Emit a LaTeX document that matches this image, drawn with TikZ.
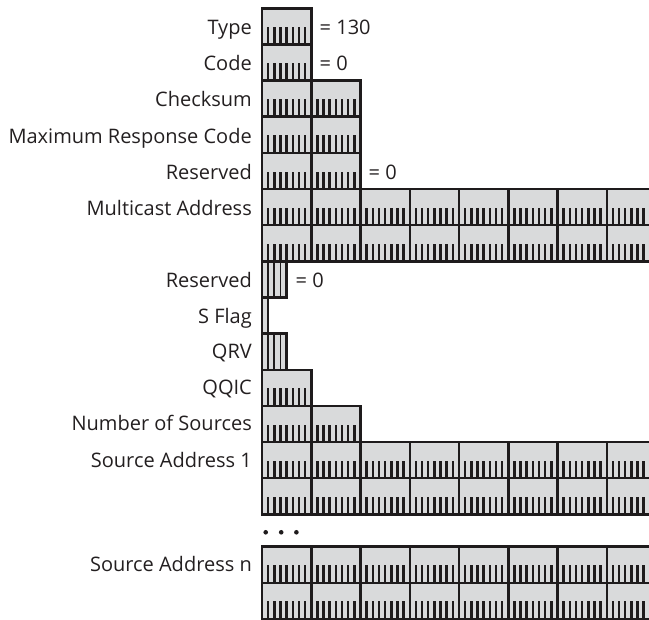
\documentclass[tikz,border=0pt]{standalone}
\usepackage{fontspec}
\setmainfont{Open Sans}
\definecolor{ln}{HTML}{1E1B1C}
\definecolor{fl}{HTML}{D9DADB}
\definecolor{tx}{HTML}{231F20}
\newcommand\bx{262}
\newcommand\bw{49.25}
\newcommand\bh{36.15}
\newcommand\byterow[2]{%
  \foreach \b in {1,...,#2}{%
    \pgfmathsetmacro\xa{\bx+(\b-1)*\bw}%
    \fill[fl] (\xa,#1) rectangle ++(\bw,\bh);
    \foreach \k in {1,...,7}{%
      \draw[ticksty] (\xa+\k*\bw/8,#1+\bh) -- ++(0,-17.5);
    }
    \draw[boxline] (\xa,#1) rectangle ++(\bw,\bh);
  }%
}
\newcommand\bitrow[2]{%
  \foreach \k in {1,...,#2}{%
    \draw[bitline] (\bx+\k*\bw/8-\bw/8,#1) rectangle ++(\bw/8,\bh);
  }
  \draw[boxline] (\bx,#1) rectangle ++(#2*\bw/8,\bh);
}
\begin{document}
\begin{tikzpicture}[x=1pt,y=-1pt,
  lab/.style={anchor=base east, inner sep=0pt, font=\fontsize{20}{24}\selectfont, text=tx},
  eq/.style={anchor=base west, inner sep=0pt, font=\fontsize{20}{24}\selectfont, text=tx},
  boxline/.style={draw=ln, line width=2.5pt},
  ticksty/.style={draw=ln, line width=2.5pt},
  bitline/.style={draw=ln, fill=fl, line width=1.9pt},
  dotsty/.style={circle, fill=ln, inner sep=0pt, minimum size=4.6pt}
]
\useasboundingbox (0,0) rectangle (649,620);
\clip (0,0) rectangle (649,620);
% rows
\byterow{8.3}{1}
\byterow{44.45}{1}
\byterow{80.6}{2}
\byterow{116.75}{2}
\byterow{152.9}{2}
\byterow{189.05}{8}
\byterow{225.2}{8}
\bitrow{261.35}{4}
\bitrow{297.5}{1}
\bitrow{333.65}{4}
\byterow{369.8}{1}
\byterow{405.95}{2}
\byterow{442.1}{8}
\byterow{478.25}{8}
\byterow{546.7}{8}
\byterow{582.85}{8}
% labels
\node[lab] (ltype) at (252,35) {Type};
\node[lab] (lcode) at (252,71) {Code};
\node[lab] (lcks) at (252,107) {Checksum};
\node[lab] (lmrc) at (252,143.3) {Maximum Response Code};
\node[lab] (lres) at (252,180) {Reserved};
\node[lab] (lma) at (252,216) {Multicast Address};
\node[lab] (lres2) at (252,287.5) {Reserved};
\node[lab] (lsf) at (252,324) {S Flag};
\node[lab] (lqrv) at (252,359) {QRV};
\node[lab] (lqqic) at (252,395) {QQIC};
\node[lab] (lnos) at (252,431) {Number of Sources};
\node[lab] (lsa1) at (252,467.5) {Source Address 1};
\node[lab] (lsan) at (252,571.7) {Source Address n};
% values
\node[eq] (vtype) at (319.5,35) {= 130};
\node[eq] (vcode) at (319.5,71) {= 0};
\node[eq] (vres) at (368.5,180) {= 0};
\node[eq] (vres2) at (295.5,287.5) {= 0};
% dots
\node[dotsty] (d1) at (265.7,532.3) {};
\node[dotsty] (d2) at (281.2,532.3) {};
\node[dotsty] (d3) at (296.4,532.3) {};
\end{tikzpicture}
\end{document}
